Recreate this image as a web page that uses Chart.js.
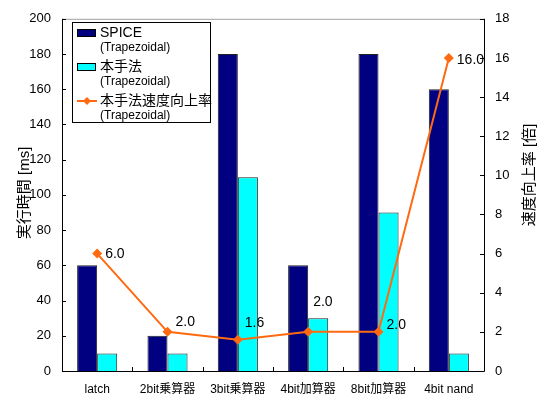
<!DOCTYPE html>
<html>
<head>
<meta charset="utf-8">
<script src="https://cdn.jsdelivr.net/npm/chart.js@4"></script>
<style>
  html, body { margin: 0; padding: 0; background: #fff; }
  #wrap { width: 540px; height: 396px; }
</style>
</head>
<body>
<div id="wrap"><canvas id="chart" width="540" height="396"></canvas></div>
<script>
// --- data ---
const categories = ['latch', '2bit乗算器', '3bit乗算器', '4bit加算器', '8bit加算器', '4bit nand'];
const spiceMs = [60, 20, 180, 60, 180, 160];
const proposedMs = [10, 10, 110, 30, 90, 10];
const speedup = [6.0, 2.0, 1.6, 2.0, 2.0, 16.0];
const leftTicks = [0, 20, 40, 60, 80, 100, 120, 140, 160, 180, 200];
const rightTicks = [0, 2, 4, 6, 8, 10, 12, 14, 16, 18];

const FONT = '"Liberation Sans", "Noto Sans CJK JP", sans-serif';
const NAVY = '#000080';
const CYAN = '#00ffff';
const ORANGE = '#ff6a10';

// label nudges (px) for the speed-up values, like the hand placed ones
const labelNudge = [[8, 1], [8, -10], [7, -17], [5, -30], [8, -7], [8, 2]];

// --- plugins ---
const extras = {
    id: 'extras',
    afterDraw(chart) {
        const ctx = chart.ctx;
        const a = chart.chartArea;
        const y = chart.scales.y, y1 = chart.scales.y1;
        ctx.save();

        // frame: grey top, black axes
        ctx.lineWidth = 1;
        ctx.strokeStyle = '#a0a0a0';
        ctx.beginPath();
        ctx.moveTo(a.left, a.top + 0.5); ctx.lineTo(a.right, a.top + 0.5);
        ctx.stroke();
        ctx.strokeStyle = '#000';
        ctx.beginPath();
        ctx.moveTo(a.left + 0.5, a.top); ctx.lineTo(a.left + 0.5, a.bottom + 0.5);
        ctx.lineTo(a.right + 0.5, a.bottom + 0.5); ctx.lineTo(a.right + 0.5, a.top);
        ctx.stroke();

        // inward tick marks
        ctx.beginPath();
        y.ticks.forEach(t => {
            const p = Math.round(y.getPixelForValue(t.value)) + 0.5;
            ctx.moveTo(a.left, p); ctx.lineTo(a.left + 4, p);
        });
        y1.ticks.forEach(t => {
            const p = Math.round(y1.getPixelForValue(t.value)) + 0.5;
            ctx.moveTo(a.right, p); ctx.lineTo(a.right - 4, p);
        });
        for (let i = 0; i <= categories.length; i++) {
            const p = Math.round(a.left + (a.right - a.left) * i / categories.length) + 0.5;
            ctx.moveTo(p, a.bottom); ctx.lineTo(p, a.bottom - 4);
        }
        ctx.stroke();

        // axis titles (both read bottom to top)
        ctx.fillStyle = '#000';
        ctx.font = '15px ' + FONT;
        ctx.textAlign = 'center';
        ctx.textBaseline = 'middle';
        const midY = (a.top + a.bottom) / 2;
        ctx.save();
        ctx.translate(25, midY - 2);
        ctx.rotate(-Math.PI / 2);
        ctx.fillText('実行時間 [ms]', 0, 0);
        ctx.restore();
        ctx.save();
        ctx.translate(530, midY - 20);
        ctx.rotate(-Math.PI / 2);
        ctx.fillText('速度向上率 [倍]', 0, 0);
        ctx.restore();

        // speed-up value labels
        const meta = chart.getDatasetMeta(2);
        ctx.font = '14px ' + FONT;
        ctx.textAlign = 'left';
        meta.data.forEach((pt, i) => {
            const n = labelNudge[i];
            ctx.fillText(speedup[i].toFixed(1), pt.x + n[0], pt.y + n[1]);
        });

        // legend box
        const lx = 72, ly = 22, lw = 138, lh = 100;
        ctx.fillStyle = '#fff';
        ctx.fillRect(lx, ly, lw, lh);
        ctx.strokeStyle = '#000';
        ctx.strokeRect(lx + 0.5, ly + 0.5, lw, lh);
        const items = [
            { name: 'SPICE', kind: 'bar', color: NAVY },
            { name: '本手法', kind: 'bar', color: CYAN },
            { name: '本手法速度向上率', kind: 'line', color: ORANGE }
        ];
        items.forEach((it, i) => {
            const cy = ly + 11 + i * 34;
            if (it.kind === 'bar') {
                ctx.fillStyle = it.color;
                ctx.fillRect(77, cy - 4, 19, 8);
                ctx.strokeStyle = '#000';
                ctx.strokeRect(77.5, cy - 3.5, 18, 7);
            } else {
                ctx.strokeStyle = it.color;
                ctx.lineWidth = 2;
                ctx.beginPath();
                ctx.moveTo(77, cy); ctx.lineTo(97, cy);
                ctx.stroke();
                ctx.fillStyle = it.color;
                ctx.beginPath();
                ctx.moveTo(87, cy - 4); ctx.lineTo(91, cy); ctx.lineTo(87, cy + 4); ctx.lineTo(83, cy);
                ctx.closePath();
                ctx.fill();
                ctx.lineWidth = 1;
            }
            ctx.fillStyle = '#000';
            ctx.font = '14px ' + FONT;
            ctx.fillText(it.name, 100, cy);
            ctx.font = '12px ' + FONT;
            ctx.fillText('(Trapezoidal)', 100, cy + 15);
        });

        ctx.restore();
    }
};

// --- chart ---
const ctx = document.getElementById('chart').getContext('2d');
new Chart(ctx, {
    data: {
        labels: categories,
        datasets: [
            {
                type: 'bar',
                label: 'SPICE',
                data: spiceMs,
                backgroundColor: NAVY,
                borderColor: '#222',
                borderWidth: 1,
                yAxisID: 'y',
                order: 2,
                categoryPercentage: 0.57,
                barPercentage: 1
            },
            {
                type: 'bar',
                label: '本手法',
                data: proposedMs,
                backgroundColor: CYAN,
                borderColor: '#222',
                borderWidth: 1,
                yAxisID: 'y',
                order: 2,
                categoryPercentage: 0.57,
                barPercentage: 1
            },
            {
                type: 'line',
                label: '本手法速度向上率',
                data: speedup,
                borderColor: ORANGE,
                backgroundColor: ORANGE,
                borderWidth: 2,
                pointStyle: 'rectRot',
                pointRadius: 5,
                pointBorderWidth: 0,
                tension: 0,
                yAxisID: 'y1',
                order: 1
            }
        ]
    },
    options: {
        responsive: false,
        animation: false,
        layout: { padding: { top: 11, left: 0, right: 0, bottom: 0 } },
        plugins: {
            legend: { display: false },
            tooltip: { enabled: false }
        },
        scales: {
            x: {
                grid: { display: false, drawTicks: false },
                border: { display: false },
                ticks: { color: '#000', font: { family: FONT, size: 12 }, padding: 11, maxRotation: 0 },
                afterFit: s => { s.height = 25; }
            },
            y: {
                position: 'left',
                min: 0, max: 200,
                afterBuildTicks: s => { s.ticks = leftTicks.map(v => ({ value: v })); },
                grid: { display: false, drawTicks: false },
                border: { display: false },
                ticks: { color: '#000', font: { family: FONT, size: 13 }, padding: 11 },
                afterFit: s => { s.width = 62; }
            },
            y1: {
                position: 'right',
                min: 0, max: 18,
                afterBuildTicks: s => { s.ticks = rightTicks.map(v => ({ value: v })); },
                grid: { display: false, drawTicks: false },
                border: { display: false },
                ticks: { color: '#000', font: { family: FONT, size: 13 }, padding: 11 },
                afterFit: s => { s.width = 56; }
            }
        }
    },
    plugins: [extras]
});
</script>
</body>
</html>
